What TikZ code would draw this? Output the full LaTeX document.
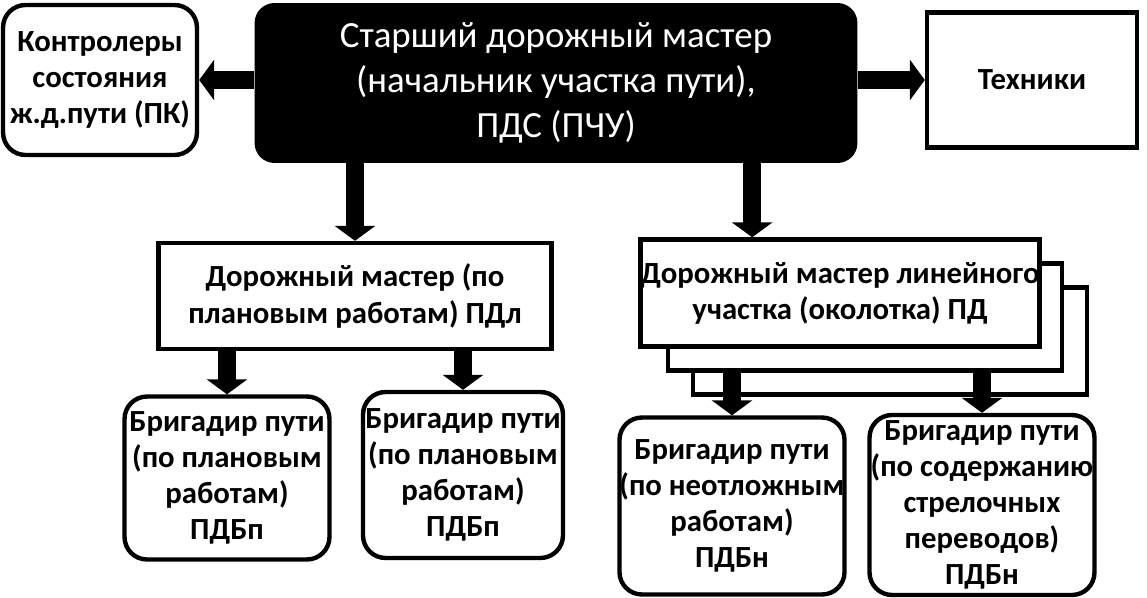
\documentclass[tikz,border=0pt]{standalone}
\usepackage{fontspec}
\setmainfont{Carlito}
\usetikzlibrary{arrows.meta}

\begin{document}
\begin{tikzpicture}[x=0.02cm, y=-0.02cm,
        bigarrow/.style={line width=0.35cm, -{Triangle[width=0.8cm, length=0.3cm]}},
        softbox/.style={draw, line width=2.5pt, rounded corners=0.45cm, fill=white, align=center, inner sep=0pt, font=\bfseries\fontsize{17.5}{20.5}\selectfont},
        flatbox/.style={draw, line width=2.5pt, fill=white, align=center, inner sep=0pt, font=\bfseries\fontsize{17.5}{20.5}\selectfont}]
        \useasboundingbox (0,0) rectangle (1147,598);
        \node[fill=black, rounded corners=0.4cm, text=white, align=center, minimum width=12.06cm, minimum height=3.2cm, font=\fontsize{21}{25.5}\selectfont] (chief) at (556,83) {Старший дорожный мастер\\(начальник участка пути),\\ПДС (ПЧУ)};
        \node[softbox, minimum width=3.88cm, minimum height=3cm] (pk) at (100,80) {Контролеры\\состояния\\ж.д.пути (ПК)};
        \node[flatbox, minimum width=4.2cm, minimum height=2.7cm] (tech) at (1032,80) {Техники};
        \draw[bigarrow] (chief.west |- pk.east) -- (pk.east);
        \draw[bigarrow] (chief.east |- tech.west) -- (tech.west);
        \node[flatbox, minimum width=7.86cm, minimum height=2.12cm] (pdl) at (355,296) {Дорожный мастер (по\\плановым работам) ПДл};
        \foreach \k in {2,1}
            \node[flatbox, minimum width=7.88cm, minimum height=2.14cm] (pd\k) at (840+25*\k, 293+24*\k) {};
        \node[flatbox, minimum width=7.88cm, minimum height=2.14cm] (pd) at (840,293) {Дорожный мастер линейного\\участка (околотка) ПД};
        \coordinate (drop) at ([xshift=2.28cm]pd.north west);
        \draw[bigarrow] (pdl.north |- chief.south) -- (pdl.north);
        \draw[bigarrow] (drop |- chief.south) -- (drop);
        \node[softbox, minimum width=4.1cm, minimum height=3.26cm] (b1) at (227,478) {Бригадир пути\\(по плановым\\работам)\\ПДБп};
        \node[softbox, minimum width=4.0cm, minimum height=3.32cm] (b2) at (463,475) {Бригадир пути\\(по плановым\\работам)\\ПДБп};
        \node[softbox, minimum width=4.46cm, minimum height=3.54cm] (b3) at (732,506) {Бригадир пути\\(по неотложным\\работам)\\ПДБн};
        \node[softbox, minimum width=4.5cm, minimum height=3.6cm] (b4) at (982,505) {Бригадир пути\\(по содержанию\\стрелочных\\переводов)\\ПДБн};
        \draw[bigarrow] (b1.north |- pdl.south) -- (b1.north);
        \draw[bigarrow] (b2.north |- pdl.south) -- (b2.north);
        \draw[bigarrow] (b3.north |- pd1.south) -- (b3.north);
        \draw[bigarrow] (b4.north |- pd1.south) -- (b4.north);
    \end{tikzpicture}
\end{document}
